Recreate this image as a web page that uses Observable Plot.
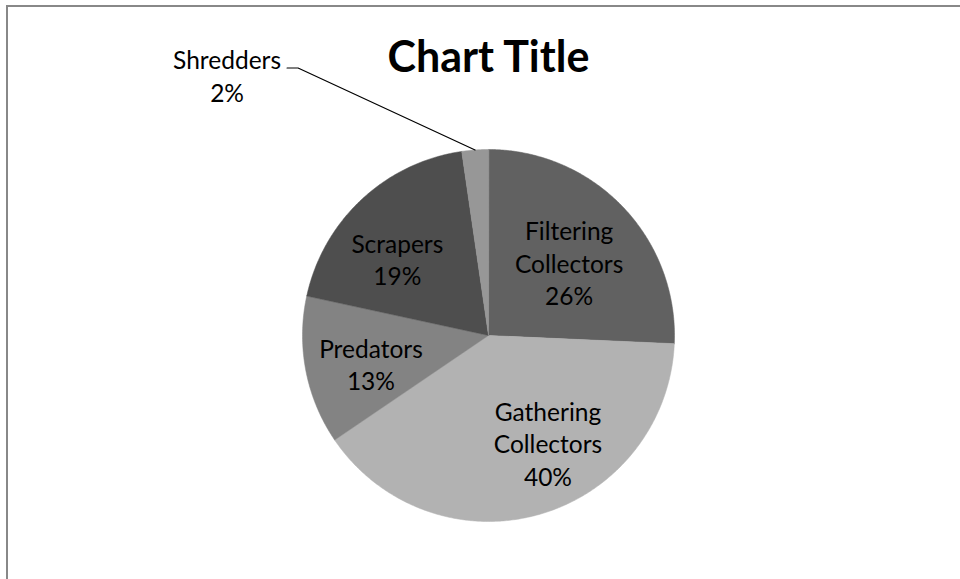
<!DOCTYPE html>
<html>
<head>
<meta charset="utf-8">
<script src="https://cdn.jsdelivr.net/npm/d3@7"></script>
<script src="https://cdn.jsdelivr.net/npm/@observablehq/plot@0.6"></script>
<style>
  html, body { margin: 0; padding: 0; background: #fff; overflow: hidden; width: 960px; height: 579px; }
  #chart { position: relative; width: 960px; height: 579px; overflow: hidden; background: #fff; }
  #chart svg { display: block; max-width: none; }
  #border { position: absolute; left: 6px; top: 5px; width: 1000px; height: 1000px;
            border-left: 2px solid #888; border-top: 2px solid #888; pointer-events: none; }
</style>
</head>
<body>
<div id="chart"><div id="border"></div></div>
<script>
// ---- data ----
const categories = ["Filtering Collectors", "Gathering Collectors", "Predators", "Scrapers", "Shredders"];
const shares = [25.7, 39.8, 12.9, 19.3, 2.3];
const chartTitle = "Chart Title";

// ---- style ----
const sliceFills = ["#616161", "#b2b2b2", "#838383", "#4e4e4e", "#979797"];
const fontFamily = "Lato, 'Open Sans', sans-serif";

// ---- layout ----
const cx = 488, cy = 335, R = 186;
const labelRadius = 0.6;
const labelNudge = {
  "Filtering Collectors": [0, 4],
  "Gathering Collectors": [29, 0],
  "Predators": [-8, 7],
  "Scrapers": [-15, 5]
};
const outside = "Shredders";
const outsideLabelOffset = [-248, -75];
const outsideElbow = [-177, -82];
const outsideAttach = [-188, -82];

const data = categories.map((c, i) => ({category: c, value: shares[i]}));
const arcs = d3.pie().sort(null).value(d => d.value)(data);

// polygon points for each slice
const points = [];
for (const a of arcs) {
  const c = a.data.category;
  points.push({category: c, x: 0, y: 0});
  const n = Math.max(2, Math.ceil((a.endAngle - a.startAngle) / (Math.PI / 360)));
  for (let k = 0; k <= n; k++) {
    const t = a.startAngle + (a.endAngle - a.startAngle) * k / n;
    points.push({category: c, x: Math.sin(t), y: Math.cos(t)});
  }
}

const pct = v => Math.round(v) + "%";
const labels = arcs.map(a => {
  const m = (a.startAngle + a.endAngle) / 2;
  return {
    category: a.data.category,
    mid: m,
    lx: labelRadius * Math.sin(m),
    ly: labelRadius * Math.cos(m),
    text: a.data.category.split(" ").join("\n") + "\n" + pct(a.data.value)
  };
});

const px = p => p / R; // pixel offset -> data units
const out = labels.find(d => d.category === outside);
const edge = {x: Math.sin(out.mid), y: Math.cos(out.mid)};
const leader = [
  {x: edge.x + px(outsideAttach[0]), y: edge.y - px(outsideAttach[1])},
  {x: edge.x + px(outsideElbow[0]), y: edge.y - px(outsideElbow[1])},
  {x: edge.x, y: edge.y}
];
const outLabel = [{x: edge.x + px(outsideLabelOffset[0]), y: edge.y - px(outsideLabelOffset[1]), text: out.text}];

const textStyle = {fontFamily, fontSize: 24.5, fill: "#000", lineHeight: 1.32, textAnchor: "middle"};

const chart = Plot.plot({
  width: 960,
  height: 579,
  margin: 0,
  x: {domain: [-1, 1], range: [cx - R, cx + R], axis: null},
  y: {domain: [-1, 1], range: [cy + R, cy - R], axis: null},
  color: {domain: categories, range: sliceFills},
  style: {background: "transparent", maxWidth: "none"},
  marks: [
    Plot.line(points, {x: "x", y: "y", z: "category", fill: "category", stroke: "category", strokeWidth: 0.5, curve: "linear-closed"}),
    ...labels.filter(d => d.category !== outside).map(d =>
      Plot.text([d], {x: "lx", y: "ly", text: "text", dx: labelNudge[d.category][0], dy: labelNudge[d.category][1], ...textStyle})
    ),
    Plot.line(leader, {x: "x", y: "y", stroke: "#000", strokeWidth: 1.2}),
    Plot.text(outLabel, {x: "x", y: "y", text: "text", ...textStyle}),
    Plot.text([chartTitle], {x: () => 0, frameAnchor: "top", text: d => d, dy: 71, lineAnchor: "bottom", fontFamily, fontWeight: "bold", fontSize: 43, fill: "#000", textAnchor: "middle"})
  ]
});
document.getElementById("chart").appendChild(chart);
</script>
</body>
</html>
